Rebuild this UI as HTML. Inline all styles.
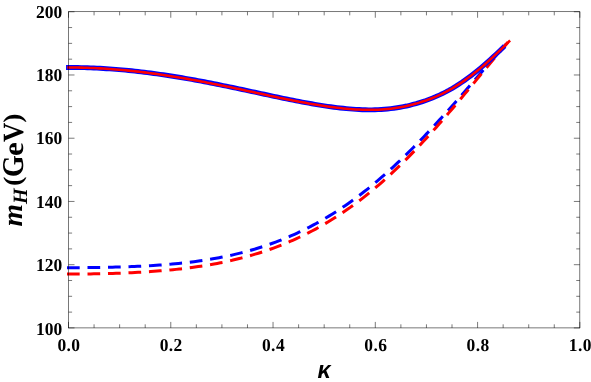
<!DOCTYPE html>
<html><head><meta charset="utf-8"><title>m_H vs kappa</title>
<style>
html,body{margin:0;padding:0;background:#fff;}
body{width:591px;height:382px;overflow:hidden;font-family:"Liberation Serif",serif;}
svg{display:block;will-change:transform;}
</style></head><body>
<svg width="591" height="382" viewBox="0 0 591 382"><rect x="0" y="0" width="591" height="382" fill="#ffffff"/>
<path d="M68.50,267.70 L71.64,267.70 L74.77,267.69 L77.91,267.68 L81.05,267.66 L84.19,267.64 L87.32,267.61 L90.46,267.58 L93.60,267.54 L96.74,267.50 L99.87,267.45 L103.01,267.40 L106.15,267.34 L109.29,267.27 L112.42,267.20 L115.56,267.12 L118.70,267.03 L121.84,266.94 L124.97,266.84 L128.11,266.73 L131.25,266.61 L134.39,266.48 L137.52,266.34 L140.66,266.20 L143.80,266.04 L146.94,265.87 L150.07,265.69 L153.21,265.50 L156.35,265.30 L159.48,265.08 L162.62,264.85 L165.76,264.61 L168.90,264.35 L172.03,264.07 L175.17,263.78 L178.31,263.48 L181.45,263.16 L184.58,262.82 L187.72,262.46 L190.86,262.08 L194.00,261.68 L197.13,261.27 L200.27,260.83 L203.41,260.37 L206.55,259.88 L209.68,259.38 L212.82,258.85 L215.96,258.29 L219.10,257.71 L222.23,257.11 L225.37,256.48 L228.51,255.82 L231.65,255.13 L234.78,254.41 L237.92,253.66 L241.06,252.88 L244.19,252.07 L247.33,251.23 L250.47,250.36 L253.61,249.45 L256.74,248.51 L259.88,247.53 L263.02,246.52 L266.16,245.47 L269.31,244.38 L272.45,243.26 L275.60,242.10 L278.75,240.90 L281.91,239.66 L285.06,238.37 L288.22,237.05 L291.37,235.69 L294.53,234.28 L297.69,232.83 L300.85,231.34 L304.02,229.81 L307.18,228.23 L310.34,226.60 L313.50,224.93 L316.67,223.22 L319.83,221.46 L322.99,219.65 L326.15,217.79 L329.32,215.89 L332.48,213.94 L335.64,211.95 L338.80,209.90 L341.95,207.81 L345.11,205.67 L348.27,203.48 L351.42,201.24 L354.57,198.95 L357.72,196.62 L360.87,194.24 L364.01,191.81 L367.15,189.33 L370.29,186.80 L373.43,184.23 L376.57,181.60 L379.70,178.94 L382.84,176.22 L385.98,173.46 L389.12,170.65 L392.25,167.80 L395.39,164.90 L398.53,161.96 L401.67,158.97 L404.80,155.95 L407.94,152.88 L411.08,149.77 L414.22,146.62 L417.35,143.43 L420.49,140.20 L423.63,136.94 L426.76,133.65 L429.90,130.32 L433.04,126.95 L436.18,123.56 L439.31,120.13 L442.45,116.68 L445.59,113.21 L448.73,109.71 L451.86,106.18 L455.00,102.64 L458.14,99.08 L461.28,95.50 L464.41,91.91 L467.55,88.30 L470.69,84.69 L473.83,81.07 L476.96,77.45 L480.10,73.82 L483.24,70.20 L486.38,66.58 L489.51,62.97 L492.65,59.37 L495.79,55.78 L498.93,52.21 L502.06,48.66 L505.20,45.13" fill="none" stroke="#0000ff" stroke-width="3.0" stroke-dasharray="9.7 10.8" stroke-linecap="square"/>
<path d="M68.50,274.05 L71.66,274.04 L74.83,274.04 L77.99,274.02 L81.16,274.00 L84.32,273.97 L87.48,273.93 L90.65,273.89 L93.81,273.84 L96.98,273.79 L100.14,273.72 L103.30,273.65 L106.47,273.58 L109.63,273.49 L112.80,273.40 L115.96,273.30 L119.12,273.19 L122.29,273.07 L125.45,272.94 L128.62,272.81 L131.78,272.66 L134.94,272.51 L138.11,272.34 L141.27,272.16 L144.44,271.97 L147.60,271.77 L150.76,271.56 L153.93,271.34 L157.09,271.10 L160.26,270.85 L163.42,270.59 L166.58,270.31 L169.75,270.01 L172.91,269.70 L176.08,269.38 L179.24,269.04 L182.41,268.68 L185.57,268.30 L188.73,267.91 L191.90,267.49 L195.06,267.06 L198.23,266.60 L201.39,266.13 L204.55,265.63 L207.72,265.11 L210.88,264.57 L214.05,264.01 L217.21,263.42 L220.37,262.80 L223.54,262.16 L226.70,261.50 L229.87,260.80 L233.03,260.08 L236.19,259.33 L239.36,258.55 L242.52,257.74 L245.69,256.90 L248.85,256.02 L252.01,255.12 L255.18,254.18 L258.34,253.21 L261.51,252.20 L264.67,251.16 L267.84,250.08 L271.01,248.97 L274.19,247.81 L277.37,246.62 L280.54,245.39 L283.73,244.12 L286.91,242.81 L290.09,241.46 L293.28,240.06 L296.46,238.63 L299.65,237.14 L302.84,235.62 L306.03,234.05 L309.22,232.44 L312.41,230.78 L315.60,229.07 L318.79,227.32 L321.98,225.52 L325.17,223.67 L328.35,221.77 L331.54,219.83 L334.73,217.83 L337.92,215.79 L341.10,213.69 L344.28,211.54 L347.47,209.35 L350.65,207.10 L353.83,204.80 L357.00,202.45 L360.18,200.04 L363.35,197.59 L366.52,195.08 L369.68,192.52 L372.85,189.91 L376.01,187.25 L379.17,184.54 L382.34,181.77 L385.50,178.95 L388.67,176.09 L391.83,173.17 L394.99,170.20 L398.16,167.18 L401.32,164.12 L404.49,161.00 L407.65,157.84 L410.82,154.63 L413.98,151.37 L417.14,148.07 L420.31,144.73 L423.47,141.34 L426.64,137.91 L429.80,134.44 L432.96,130.94 L436.13,127.39 L439.29,123.81 L442.46,120.20 L445.62,116.56 L448.78,112.88 L451.95,109.18 L455.11,105.45 L458.28,101.70 L461.44,97.93 L464.60,94.14 L467.77,90.34 L470.93,86.53 L474.10,82.70 L477.26,78.87 L480.42,75.04 L483.59,71.21 L486.75,67.39 L489.92,63.57 L493.08,59.77 L496.24,55.98 L499.41,52.22 L502.57,48.48 L505.74,44.78 L508.90,41.11" fill="none" stroke="#ff0000" stroke-width="3.0" stroke-dasharray="9.7 10.8" stroke-linecap="square"/>
<path d="M68.50,67.45 L71.66,67.46 L74.82,67.49 L77.98,67.53 L81.14,67.59 L84.29,67.67 L87.45,67.77 L90.61,67.88 L93.77,68.01 L96.93,68.15 L100.09,68.31 L103.25,68.49 L106.41,68.69 L109.57,68.90 L112.73,69.12 L115.88,69.36 L119.04,69.62 L122.20,69.90 L125.36,70.18 L128.52,70.49 L131.68,70.81 L134.84,71.14 L138.00,71.49 L141.16,71.85 L144.32,72.23 L147.47,72.62 L150.63,73.03 L153.79,73.45 L156.95,73.89 L160.11,74.33 L163.27,74.79 L166.43,75.26 L169.59,75.75 L172.75,76.24 L175.91,76.75 L179.06,77.27 L182.22,77.79 L185.38,78.33 L188.54,78.88 L191.70,79.44 L194.86,80.01 L198.02,80.59 L201.18,81.17 L204.34,81.77 L207.50,82.37 L210.65,82.98 L213.81,83.61 L216.97,84.24 L220.13,84.88 L223.29,85.53 L226.45,86.18 L229.61,86.84 L232.77,87.50 L235.93,88.17 L239.09,88.84 L242.24,89.51 L245.40,90.19 L248.56,90.86 L251.72,91.54 L254.88,92.22 L258.04,92.90 L261.20,93.58 L264.36,94.26 L267.52,94.94 L270.68,95.62 L273.83,96.29 L276.99,96.96 L280.15,97.62 L283.31,98.28 L286.47,98.93 L289.63,99.58 L292.79,100.21 L295.95,100.84 L299.11,101.45 L302.27,102.05 L305.42,102.64 L308.58,103.21 L311.74,103.78 L314.90,104.32 L318.06,104.85 L321.22,105.36 L324.38,105.85 L327.54,106.32 L330.70,106.77 L333.86,107.20 L337.01,107.60 L340.17,107.97 L343.33,108.31 L346.49,108.63 L349.65,108.91 L352.81,109.16 L355.97,109.38 L359.13,109.55 L362.29,109.69 L365.45,109.79 L368.60,109.84 L371.76,109.83 L374.92,109.77 L378.08,109.65 L381.24,109.48 L384.40,109.26 L387.56,108.98 L390.72,108.65 L393.88,108.25 L397.04,107.79 L400.19,107.27 L403.35,106.68 L406.51,106.02 L409.67,105.28 L412.85,104.48 L416.07,103.60 L419.32,102.63 L422.60,101.59 L425.90,100.47 L429.22,99.26 L432.55,97.97 L435.87,96.60 L439.19,95.13 L442.50,93.58 L445.80,91.93 L449.06,90.19 L452.30,88.36 L455.49,86.44 L458.66,84.43 L461.82,82.33 L464.97,80.13 L468.13,77.84 L471.29,75.47 L474.45,73.02 L477.61,70.49 L480.77,67.87 L483.93,65.17 L487.09,62.40 L490.25,59.56 L493.41,56.65 L496.56,53.69 L499.72,50.67 L502.88,47.60" fill="none" stroke="#0000ff" stroke-width="4.9" stroke-linecap="square" stroke-linejoin="round"/>
<path d="M68.50,67.45 L71.66,67.47 L74.82,67.50 L77.98,67.55 L81.14,67.62 L84.29,67.71 L87.45,67.81 L90.61,67.93 L93.77,68.06 L96.93,68.21 L100.09,68.38 L103.25,68.56 L106.41,68.77 L109.57,68.98 L112.73,69.22 L115.88,69.46 L119.04,69.73 L122.20,70.01 L125.36,70.30 L128.52,70.61 L131.68,70.94 L134.84,71.28 L138.00,71.63 L141.16,72.00 L144.32,72.39 L147.47,72.79 L150.63,73.20 L153.79,73.63 L156.95,74.07 L160.11,74.52 L163.27,74.98 L166.43,75.46 L169.59,75.95 L172.75,76.45 L175.91,76.96 L179.06,77.49 L182.22,78.02 L185.38,78.57 L188.54,79.12 L191.70,79.69 L194.86,80.26 L198.02,80.84 L201.18,81.44 L204.34,82.04 L207.50,82.64 L210.65,83.26 L213.81,83.89 L216.97,84.52 L220.13,85.16 L223.29,85.81 L226.45,86.46 L229.61,87.12 L232.77,87.78 L235.93,88.45 L239.09,89.11 L242.24,89.79 L245.40,90.46 L248.56,91.14 L251.72,91.82 L254.88,92.50 L258.04,93.18 L261.20,93.86 L264.36,94.54 L267.52,95.21 L270.68,95.89 L273.83,96.56 L276.99,97.23 L280.15,97.89 L283.31,98.55 L286.47,99.20 L289.63,99.85 L292.79,100.48 L295.95,101.11 L299.11,101.71 L302.27,102.30 L305.42,102.87 L308.58,103.44 L311.74,103.99 L314.90,104.52 L318.06,105.04 L321.22,105.54 L324.38,106.02 L327.54,106.48 L330.70,106.91 L333.86,107.33 L337.01,107.71 L340.17,108.08 L343.33,108.41 L346.49,108.71 L349.65,108.99 L352.81,109.22 L355.97,109.43 L359.13,109.59 L362.29,109.72 L365.45,109.80 L368.60,109.84 L371.76,109.83 L374.92,109.77 L378.08,109.65 L381.24,109.48 L384.40,109.26 L387.56,108.98 L390.72,108.65 L393.88,108.25 L397.04,107.79 L400.19,107.27 L403.35,106.68 L406.51,106.02 L409.67,105.28 L412.85,104.48 L416.07,103.60 L419.32,102.63 L422.60,101.59 L425.90,100.47 L429.22,99.26 L432.55,97.97 L435.87,96.60 L439.19,95.13 L442.50,93.58 L445.80,91.93 L449.06,90.19 L452.30,88.36 L455.49,86.44 L458.66,84.43 L461.82,82.33 L464.97,80.13 L468.13,77.84 L471.29,75.47 L474.45,73.02 L477.61,70.49 L480.77,67.87 L483.93,65.17 L487.09,62.40 L490.25,59.56 L493.41,56.65 L496.56,53.69 L499.72,50.67 L502.88,47.60 L506.04,44.50 L509.20,41.38" fill="none" stroke="#ff0000" stroke-width="2.55" stroke-linecap="square" stroke-linejoin="round"/>
<path d="M68.50,327.92v-6.0M68.50,11.75v6.0M94.07,327.92v-3.6M94.07,11.75v3.6M119.64,327.92v-3.6M119.64,11.75v3.6M145.20,327.92v-3.6M145.20,11.75v3.6M170.77,327.92v-6.0M170.77,11.75v6.0M196.34,327.92v-3.6M196.34,11.75v3.6M221.91,327.92v-3.6M221.91,11.75v3.6M247.47,327.92v-3.6M247.47,11.75v3.6M273.04,327.92v-6.0M273.04,11.75v6.0M298.61,327.92v-3.6M298.61,11.75v3.6M324.18,327.92v-3.6M324.18,11.75v3.6M349.74,327.92v-3.6M349.74,11.75v3.6M375.31,327.92v-6.0M375.31,11.75v6.0M400.88,327.92v-3.6M400.88,11.75v3.6M426.45,327.92v-3.6M426.45,11.75v3.6M452.01,327.92v-3.6M452.01,11.75v3.6M477.58,327.92v-6.0M477.58,11.75v6.0M503.15,327.92v-3.6M503.15,11.75v3.6M528.72,327.92v-3.6M528.72,11.75v3.6M554.28,327.92v-3.6M554.28,11.75v3.6M579.85,327.92v-6.0M579.85,11.75v6.0M68.50,327.92h6.0M579.85,327.92h-6.0M68.50,312.11h3.6M579.85,312.11h-3.6M68.50,296.30h3.6M579.85,296.30h-3.6M68.50,280.49h3.6M579.85,280.49h-3.6M68.50,264.69h6.0M579.85,264.69h-6.0M68.50,248.88h3.6M579.85,248.88h-3.6M68.50,233.07h3.6M579.85,233.07h-3.6M68.50,217.26h3.6M579.85,217.26h-3.6M68.50,201.45h6.0M579.85,201.45h-6.0M68.50,185.64h3.6M579.85,185.64h-3.6M68.50,169.84h3.6M579.85,169.84h-3.6M68.50,154.03h3.6M579.85,154.03h-3.6M68.50,138.22h6.0M579.85,138.22h-6.0M68.50,122.41h3.6M579.85,122.41h-3.6M68.50,106.60h3.6M579.85,106.60h-3.6M68.50,90.79h3.6M579.85,90.79h-3.6M68.50,74.98h6.0M579.85,74.98h-6.0M68.50,59.18h3.6M579.85,59.18h-3.6M68.50,43.37h3.6M579.85,43.37h-3.6M68.50,27.56h3.6M579.85,27.56h-3.6M68.50,11.75h6.0M579.85,11.75h-6.0" stroke="#000000" stroke-width="0.53" fill="none"/>
<rect x="68.5" y="11.75" width="511.35" height="316.17" fill="none" stroke="#000000" stroke-width="0.53"/>
<g font-family="'Liberation Serif', serif" font-weight="bold" font-size="17.5" fill="#000" text-rendering="geometricPrecision"><text transform="translate(62.3,335.02) scale(1,1.04)" text-anchor="end">100</text><text transform="translate(62.3,270.89) scale(1,1.04)" text-anchor="end">120</text><text transform="translate(62.3,207.65) scale(1,1.04)" text-anchor="end">140</text><text transform="translate(62.3,144.42) scale(1,1.04)" text-anchor="end">160</text><text transform="translate(62.3,81.18) scale(1,1.04)" text-anchor="end">180</text><text transform="translate(62.3,17.95) scale(1,1.04)" text-anchor="end">200</text><text transform="translate(68.95,350.8) scale(1,1.04)" text-anchor="middle" letter-spacing="0.4">0.0</text><text transform="translate(171.22,350.8) scale(1,1.04)" text-anchor="middle" letter-spacing="0.4">0.2</text><text transform="translate(273.49,350.8) scale(1,1.04)" text-anchor="middle" letter-spacing="0.4">0.4</text><text transform="translate(375.76,350.8) scale(1,1.04)" text-anchor="middle" letter-spacing="0.4">0.6</text><text transform="translate(478.03,350.8) scale(1,1.04)" text-anchor="middle" letter-spacing="0.4">0.8</text><text transform="translate(580.30,350.8) scale(1,1.04)" text-anchor="middle" letter-spacing="0.4">1.0</text></g>
<g font-family="'Liberation Serif', serif" font-weight="bold" font-size="28" fill="#000" text-rendering="geometricPrecision"><text transform="translate(22.45,226.59) rotate(-90) scale(1.032,1.019)" font-style="italic">m</text><text transform="translate(27.12,204.06) rotate(-90) scale(0.721,0.729)" font-style="italic">H</text><text transform="translate(20.83,185.91) rotate(-90) scale(1.009,0.91)" font-style="normal">(</text><text transform="translate(22.9,176.99) rotate(-90) scale(0.994,1.077)" font-style="normal">G</text><text transform="translate(22.7,155.9) rotate(-90) scale(1.102,1.037)" font-style="normal">e</text><text transform="translate(22.6,141.97) rotate(-90) scale(0.96,1.051)" font-style="normal">V</text><text transform="translate(21.12,122.66) rotate(-90) scale(0.975,0.922)" font-style="normal">)</text></g>
<text transform="translate(324.0,377.75) scale(0.935,0.985)" text-anchor="middle" font-family="'Liberation Sans', sans-serif" font-weight="bold" font-style="italic" font-size="25" fill="#000" text-rendering="geometricPrecision">&#954;</text></svg>
</body></html>
